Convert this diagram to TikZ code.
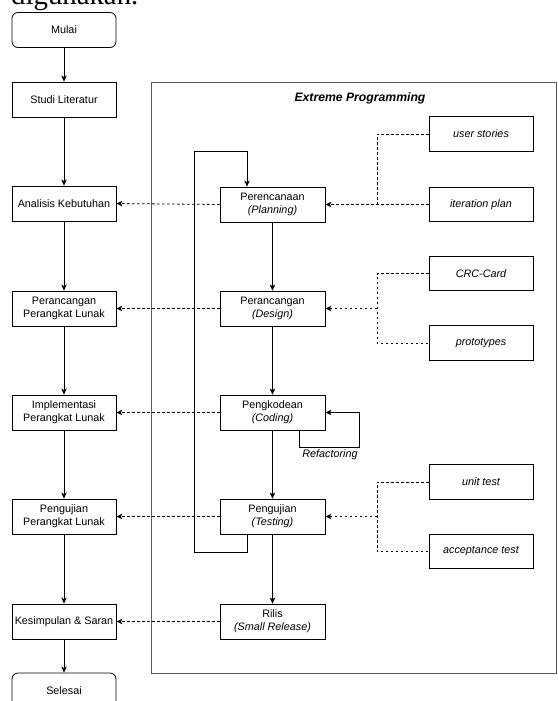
\documentclass[tikz,border=0pt]{standalone}
\usepackage{fontspec}
\setmainfont{Liberation Sans}
\newfontfamily\serifdoc{Liberation Serif}
\usetikzlibrary{arrows.meta,calc}
\begin{document}
\begin{tikzpicture}[x=1pt,y=-1pt,
  every node/.style={font=\fontsize{10.8}{12.8}\selectfont, inner sep=0pt, align=center},
  box/.style={draw=black, line width=0.8pt, minimum height=35pt},
  lbox/.style={box, minimum width=104pt},
  mbox/.style={box, minimum width=105pt},
  rbox/.style={box, minimum width=104pt, minimum height=34.5pt, font=\fontsize{10.8}{12.8}\selectfont\itshape},
  term/.style={lbox, rounded corners=6pt},
  arr/.style={-{Stealth[length=6pt,width=5.5pt,inset=1.5pt]}, line width=0.8pt},
  dsh/.style={dash pattern=on 2.5pt off 2.5pt, line width=0.8pt},
  darr/.style={dsh, -{Stealth[length=6pt,width=5.5pt,inset=1.5pt]}},
]
\useasboundingbox (0,0) rectangle (557,701);
% cropped document text
\node[font=\serifdoc\fontsize{28.8}{30}\selectfont, anchor=base west] (doctext) at (11,5) {digunakan.};
% frame
\node[draw=black!65, line width=1pt, minimum width=405pt, minimum height=591pt, anchor=north west] (frame) at (151,82) {};
\node[font=\fontsize{12.2}{14}\selectfont\bfseries\itshape] (title) at (360,98) {Extreme Programming};
% left column
\node[term] (mulai) at (64,30) {Mulai};
\node[lbox] (studi) at (64,99.5) {Studi Literatur};
\node[lbox] (anal) at (64,203.5) {Analisis Kebutuhan};
\node[lbox] (ranc) at (64,308.5) {Perancangan\\Perangkat Lunak};
\node[lbox] (impl) at (64,412.5) {Implementasi\\Perangkat Lunak};
\node[lbox] (uji) at (64,516.5) {Pengujian\\Perangkat Lunak};
\node[lbox] (kes) at (64,621.5) {Kesimpulan \& Saran};
\node[term] (sel) at (64,690.5) {Selesai};
% middle column
\node[mbox] (mplan) at (272.5,204.5) {Perencanaan\\\textit{(Planning)}};
\node[mbox] (mdes) at (272.5,308.5) {Perancangan\\\textit{(Design)}};
\node[mbox] (mcode) at (272.5,412.5) {Pengkodean\\\textit{(Coding)}};
\node[mbox] (mtest) at (272.5,516.5) {Pengujian\\\textit{(Testing)}};
\node[mbox] (mrel) at (272.5,621.5) {Rilis\\\textit{(Small Release)}};
% right column
\node[rbox] (us) at (481,134) {user stories};
\node[rbox] (ip) at (481,204.5) {iteration plan};
\node[rbox] (crc) at (481,273.5) {CRC-Card};
\node[rbox] (proto) at (481,343) {prototypes};
\node[rbox] (unit) at (481,482) {unit test};
\node[rbox] (acc) at (481,551.5) {acceptance test};
% left flow
\draw[arr] (mulai) -- (studi);
\draw[arr] (studi) -- (anal);
\draw[arr] (anal) -- (ranc);
\draw[arr] (ranc) -- (impl);
\draw[arr] (impl) -- (uji);
\draw[arr] (uji) -- (kes);
\draw[arr] (kes) -- (sel);
% middle flow
\draw[arr] (mplan) -- (mdes);
\draw[arr] (mdes) -- (mcode);
\draw[arr] (mcode) -- (mtest);
\draw[arr] (mtest) -- (mrel);
% middle to left
\draw[darr] (mplan.west) -- (anal.east);
\draw[darr] (mdes.west) -- (ranc.east);
\draw[darr] (mcode.west) -- (impl.east);
\draw[darr] (mtest.west) -- (uji.east);
\draw[darr] (mrel.west) -- (kes.east);
% right to middle
\draw[dsh] (us.west) -- (377,134) -- (377,204.5);
\draw[darr] (ip.west) -- (mplan.east);
\draw[dsh] (crc.west) -- (377,273.5) -- (377,343) -- (proto.west);
\draw[darr] (377,308.5) -- (mdes.east);
\draw[dsh] (unit.west) -- (377,482) -- (377,551.5) -- (acc.west);
\draw[darr] (377,516.5) -- (mtest.east);
% iteration loop
\draw[arr] (mtest.south -| 247,0) -- (247,552) -- (194,552) -- (194,151) -- (247,151) -- (mplan.north -| 247,0);
% refactoring loop
\draw[arr] (mcode.south -| 299,0) -- (299,447) -- (359,447) -- (359,412.5) -- (mcode.east);
\node[font=\fontsize{10.8}{12.8}\selectfont\itshape] (refac) at (330,455) {Refactoring};
\end{tikzpicture}
\end{document}
